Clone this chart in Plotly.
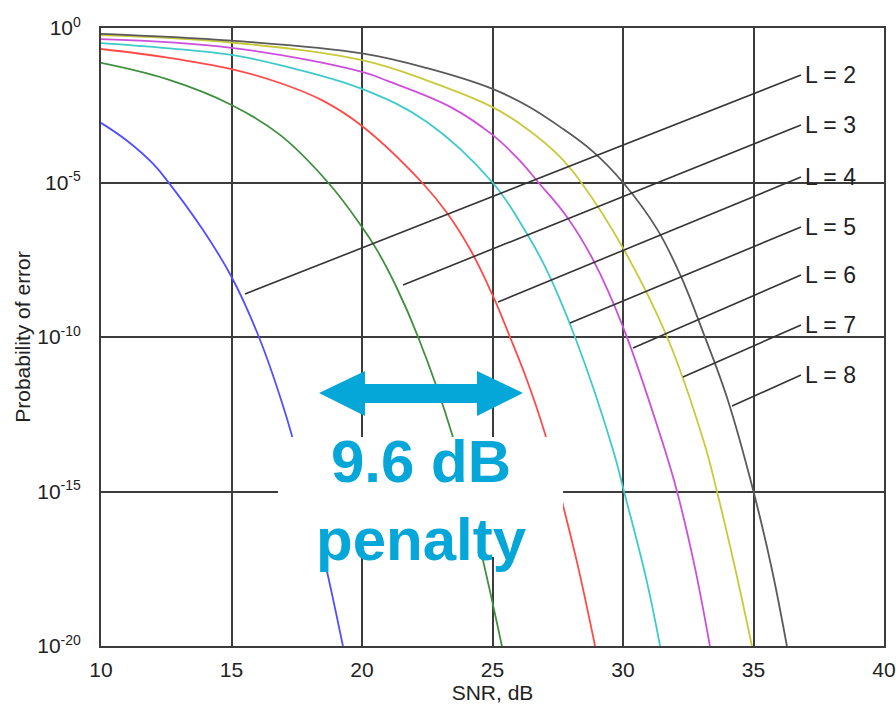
import numpy as np
import plotly.graph_objects as go

# ---------------- data ----------------
# SNR (dB) and log10(probability of error) for each constellation size L
snr_L2 = [10, 11, 12, 12.57, 13.91, 15, 16.05, 17.0, 17.9, 18.5, 19.27]
log_L2 = [-3.07, -3.65, -4.4, -4.98, -6.54, -8.05, -10.0, -12.3, -15.0, -17.0, -20.0]

snr_L3 = [10, 12.5, 15, 16.86, 18.7, 20, 20.57, 21.3, 22.15, 23.45, 24.6, 25.36]
log_L3 = [-1.13, -1.65, -2.49, -3.46, -5.0, -6.44, -7.18, -8.35, -10.0, -13.15, -17.1, -20.0]

snr_L4 = [10, 12.5, 15, 16.86, 18.5, 20, 22.3, 23.26, 24.2, 25, 25.67, 26.32, 27.0, 27.7, 28.28, 28.93]
log_L4 = [-0.68, -0.95, -1.33, -1.78, -2.35, -3.17, -5.0, -5.99, -7.25, -8.64, -10.0, -11.39, -13.1, -15.44, -17.44, -20.0]

snr_L5 = [10, 12.5, 15, 16.86, 20, 22.5, 25, 26.17, 27.0, 28.16, 29.6, 30.04, 30.9, 31.42]
log_L5 = [-0.49, -0.65, -0.87, -1.2, -1.97, -3.05, -5.0, -6.45, -7.7, -10.0, -13.6, -15.0, -17.86, -20.0]

snr_L6 = [10, 15, 20, 21, 23.4, 25, 26, 26.76, 27.84, 28.86, 30.0, 31.53, 32.07, 32.74, 33.33]
log_L6 = [-0.36, -0.64, -1.42, -1.72, -2.56, -3.46, -4.25, -5.0, -6.1, -7.51, -9.67, -13.45, -15.0, -17.4, -20.0]

snr_L7 = [10, 15, 20, 22.5, 25, 26.3, 27.59, 28.4, 30.0, 31.69, 33.1, 33.6, 34.3, 34.94]
log_L7 = [-0.23, -0.47, -1.04, -1.7, -2.56, -3.25, -4.17, -5.0, -7.12, -10.0, -13.4, -15.0, -17.5, -20.0]

snr_L8 = [10, 15, 20, 22.5, 25, 26.3, 27.59, 28.85, 30.0, 31.3, 32.2, 33.07, 34.0, 35.0, 35.7, 36.28]
log_L8 = [-0.19, -0.41, -0.82, -1.3, -1.97, -2.5, -3.2, -4.0, -5.0, -6.5, -8.0, -9.85, -12.0, -15.0, -17.5, -20.0]

series_names = ["L = 2", "L = 3", "L = 4", "L = 5", "L = 6", "L = 7", "L = 8"]
series_snr = [snr_L2, snr_L3, snr_L4, snr_L5, snr_L6, snr_L7, snr_L8]
series_log = [log_L2, log_L3, log_L4, log_L5, log_L6, log_L7, log_L8]
series_colors = ["#5050ff", "#3f8f3f", "#ff4a4a", "#3fcaca", "#cc4fdc", "#c9c93a", "#5a5a5a"]

x_ticks = [10, 15, 20, 25, 30, 35, 40]
y_tick_exp = [0, -5, -10, -15, -20]
y_ticktext = ["10<sup><span style='font-size:14px'>%s</span></sup>" % (str(e) if e == 0 else "-%d" % (-e))
              for e in y_tick_exp]

# ---------------- layout geometry (pixels) ----------------
W, H = 896, 704
PL, PR, PT, PB = 101, 884, 28, 646   # plot area edges


def px(x):
    return (x - PL) / (PR - PL)


def py(y):
    return (PB - y) / (PB - PT)


FONT = "Liberation Sans, Arial, sans-serif"
ACCENT = "#05a6d8"
TXT = "#222222"

fig = go.Figure()
for name, xs, ls, col in zip(series_names, series_snr, series_log, series_colors):
    fig.add_trace(go.Scatter(
        x=xs, y=np.power(10.0, np.array(ls)), mode="lines", name=name,
        line=dict(color=col, width=1.8, shape="spline", smoothing=1.1),
        showlegend=False, hoverinfo="skip"))

shapes = []
annotations = []

# leader lines and labels (label anchor -> point on curve), in pixels
label_y = [75, 125, 177, 227, 275, 325, 375]
leader_end = [(245, 294), (403, 285), (498, 302), (570, 323), (633, 348), (683, 377), (732, 406)]
for name, ly, (ex, ey) in zip(series_names, label_y, leader_end):
    shapes.append(dict(type="line", xref="paper", yref="paper",
                       x0=px(801), y0=py(ly), x1=px(ex), y1=py(ey),
                       line=dict(color="#333333", width=1.6), layer="above"))
    annotations.append(dict(text=name, xref="paper", yref="paper",
                            x=px(803), y=py(ly), xanchor="left", yanchor="middle",
                            showarrow=False, font=dict(family=FONT, size=23, color=TXT)))

# white box behind the penalty text
shapes.append(dict(type="rect", xref="paper", yref="paper",
                   x0=px(278), x1=px(563), y0=py(557), y1=py(437),
                   fillcolor="white", line=dict(width=0), layer="above"))

# double-headed arrow
pts = [(319, 393), (365, 371), (365, 384), (477, 384), (477, 371), (523, 393),
       (477, 416), (477, 403), (365, 403), (365, 416)]
path = "M " + " L ".join("%.5f,%.5f" % (px(a), py(b)) for a, b in pts) + " Z"
shapes.append(dict(type="path", xref="paper", yref="paper", path=path,
                   fillcolor=ACCENT, line=dict(width=0), layer="above"))

annotations.append(dict(text="<b>9.6 dB</b>", xref="paper", yref="paper",
                        x=px(421), y=py(461), xanchor="center", yanchor="middle",
                        showarrow=False, font=dict(family=FONT, size=60, color=ACCENT)))
annotations.append(dict(text="<b>penalty</b>", xref="paper", yref="paper",
                        x=px(421), y=py(539), xanchor="center", yanchor="middle",
                        showarrow=False, font=dict(family=FONT, size=60, color=ACCENT)))

axis_common = dict(showgrid=True, gridcolor="#3c3c3c", gridwidth=2,
                   showline=True, linecolor="#3c3c3c", linewidth=2, mirror=True,
                   zeroline=False, ticks="", ticklabeloverflow="allow",
                   tickfont=dict(family=FONT, size=21, color=TXT))

fig.update_layout(
    width=W, height=H,
    margin=dict(l=PL, r=W - PR, t=PT, b=H - PB, autoexpand=False),
    paper_bgcolor="white", plot_bgcolor="white",
    shapes=shapes, annotations=annotations,
    xaxis=dict(range=[10, 40], tickvals=x_ticks, ticktext=[str(v) for v in x_ticks],
               ticklabelstandoff=4,
               title=dict(text="SNR, dB", font=dict(family=FONT, size=21, color=TXT), standoff=2),
               **axis_common),
    yaxis=dict(type="log", range=[-20, 0], tickvals=[10.0 ** e for e in y_tick_exp],
               ticktext=y_ticktext, ticklabelstandoff=14,
               title=dict(text="Probability of error", font=dict(family=FONT, size=21, color=TXT), standoff=1),
               **axis_common),
)

fig.write_html("out.html", config={"displayModeBar": False},
               post_script="document.body.style.margin='0';")
